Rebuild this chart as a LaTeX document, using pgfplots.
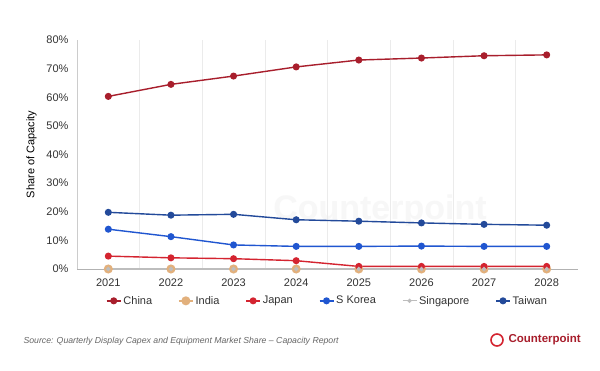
\documentclass[border=0pt]{standalone}
\usepackage{pgfplots}
\pgfplotsset{compat=1.18}
\usepackage{fontspec}
\setmainfont{Liberation Sans}
\definecolor{cchina}{HTML}{A81E2C}
\definecolor{cindia}{HTML}{E2B07C}
\definecolor{cjapan}{HTML}{D42430}
\definecolor{ckorea}{HTML}{2056D0}
\definecolor{csing}{HTML}{BDBDBD}
\definecolor{ctaiwan}{HTML}{234A9A}
\definecolor{ctext}{HTML}{333333}
\begin{document}
\begin{tikzpicture}[x=1pt,y=1pt]
\path[use as bounding box,fill=white] (0,0) rectangle (600,371);
\node[text=black!3,font=\bfseries\fontsize{34}{36}\selectfont] at (380,160) {Counterpoint};
\begin{axis}[
  at={(77pt,102pt)}, anchor=south west,
  scale only axis, width=501pt, height=229pt,
  xmin=-0.5, xmax=7.5, ymin=0, ymax=80,
  xtick={0,...,7},
  xticklabels={2021,2022,2023,2024,2025,2026,2027,2028},
  minor xtick={0.5,1.5,...,6.5},
  xminorgrids, minor grid style={black!8},
  ytick={0,10,...,80},
  yticklabel={\pgfmathprintnumber{\tick}\%},
  /pgf/number format/assume math mode=true,
  axis x line*=bottom, axis y line*=left,
  axis line style={black!20},
  x axis line style={black!30},
  tick style={draw=none},
  ticklabel style={font=\fontsize{11}{12}\selectfont, text=ctext},
  xticklabel style={yshift=-6pt},
  yticklabel style={xshift=-5pt},
  ylabel={Share of Capacity},
  ylabel style={font=\fontsize{11}{12}\selectfont, text=black, yshift=3pt},
  clip=false,
  legend style={at={(0.5,-0.10)}, anchor=north, draw=none, fill=none,
    legend columns=6, font=\fontsize{11}{12}\selectfont, text=ctext,
    /tikz/every even column/.append style={column sep=24pt}},
  legend image code/.code={
    \draw[#1] (0pt,0pt) -- (14pt,0pt);
    \draw[#1, only marks] plot coordinates {(7pt,0pt)};
  },
]
\addplot[color=cchina, line width=1.4pt, mark=*, mark size=2.8pt] coordinates {
(0,60.3) (1,64.5) (2,67.4) (3,70.6) (4,73.0) (5,73.7) (6,74.5) (7,74.8)};
\addlegendentry{China}
\addplot[color=cindia, line width=1.4pt, mark=*, mark size=3.8pt] coordinates {
(0,0) (1,0) (2,0) (3,0) (4,0) (5,0) (6,0) (7,0)};
\addlegendentry{India}
\addplot[color=cjapan, line width=1.4pt, mark=*, mark size=2.8pt] coordinates {
(0,4.5) (1,3.9) (2,3.6) (3,2.9) (4,0.9) (5,0.9) (6,0.9) (7,0.9)};
\addlegendentry{Japan}
\addplot[color=ckorea, line width=1.4pt, mark=*, mark size=2.8pt] coordinates {
(0,13.9) (1,11.3) (2,8.4) (3,7.9) (4,7.9) (5,8.0) (6,7.9) (7,7.9)};
\addlegendentry{S Korea}
\addplot[color=csing, line width=1.2pt, mark=*, mark size=1.5pt] coordinates {
(0,0) (1,0) (2,0) (3,0) (4,0) (5,0) (6,0) (7,0)};
\addlegendentry{Singapore}
\addplot[color=ctaiwan, line width=1.4pt, mark=*, mark size=2.8pt] coordinates {
(0,19.8) (1,18.8) (2,19.1) (3,17.2) (4,16.7) (5,16.1) (6,15.6) (7,15.3)};
\addlegendentry{Taiwan}
\end{axis}
\node[anchor=west, text=black!60, font=\itshape\fontsize{8.7}{10}\selectfont] at (20,30) {Source: Quarterly Display Capex and Equipment Market Share -- Capacity Report};
\draw[cjapan, line width=1.6pt] (497,31) circle (6);
\node[anchor=west, text=cchina, font=\bfseries\fontsize{11.5}{13}\selectfont] at (505,31) {Counterpoint};
\end{tikzpicture}
\end{document}
